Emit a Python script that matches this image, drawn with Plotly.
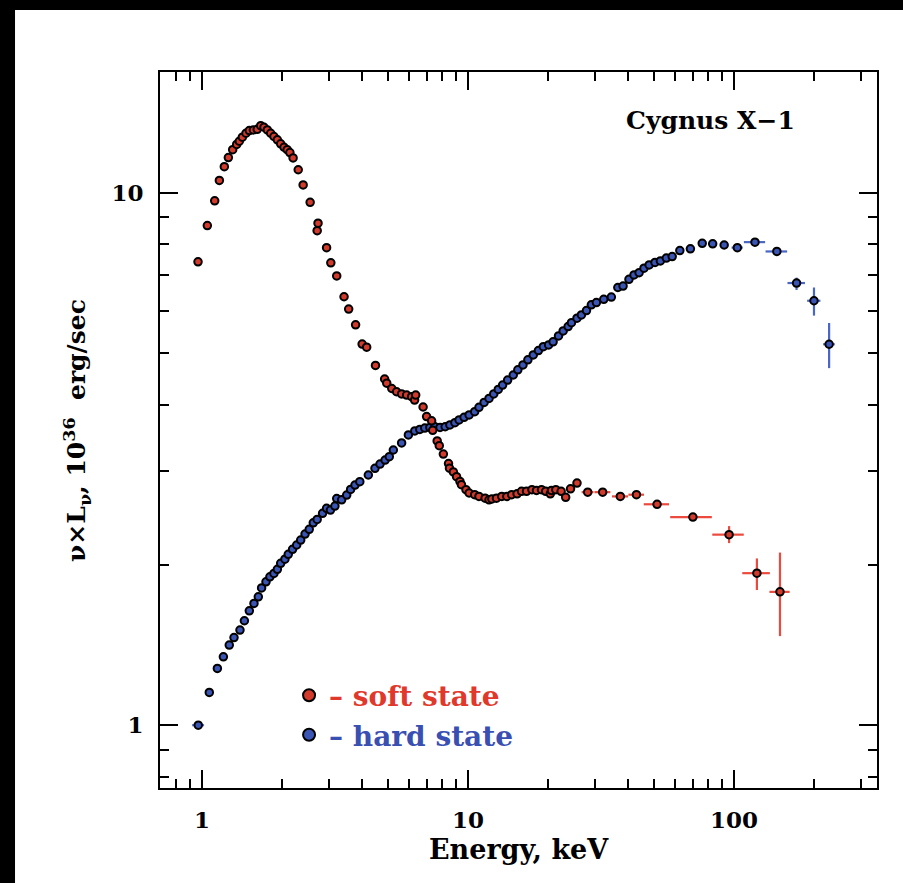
import plotly.graph_objects as go

# ---------------- data ----------------
soft_E = [0.966, 1.047, 1.116, 1.162, 1.213, 1.256, 1.304, 1.35, 1.381, 1.418,
          1.463, 1.506, 1.56, 1.613, 1.662, 1.71, 1.76, 1.812, 1.864, 1.92,
          1.976, 2.034, 2.09, 2.14, 2.2, 2.3, 2.4, 2.55, 2.71, 2.73,
          2.94, 3.05, 3.21, 3.42, 3.56, 3.78, 4.0, 4.16, 4.49, 4.86,
          4.95, 5.17, 5.39, 5.63, 5.88, 6.14, 6.3, 6.36, 6.78, 6.99,
          7.3, 7.37, 7.66, 7.8, 8.08, 8.45, 8.52, 8.81, 9.06, 9.33,
          9.45, 9.83, 10.1, 10.6, 11.0, 11.6, 12.0, 12.3, 12.8, 13.4,
          14.0, 14.6, 15.3, 15.9, 16.6, 17.4, 18.1, 18.9, 19.6, 20.4,
          20.6, 21.4, 22.4, 23.3, 24.3, 25.7, 28.2, 32.1, 37.4, 43.0,
          51.4, 70.1, 95.9, 122, 149]
soft_L = [7.42, 8.68, 9.66, 10.55, 11.2, 11.65, 12.05, 12.33, 12.5, 12.72,
          12.94, 13.09, 13.13, 13.16, 13.37, 13.28, 13.13, 12.94, 12.76, 12.58,
          12.36, 12.18, 12.05, 11.9, 11.63, 11.05, 10.35, 9.6, 8.49, 8.77,
          7.89, 7.39, 6.98, 6.38, 6.05, 5.65, 5.2, 5.13, 4.74, 4.47,
          4.39, 4.29, 4.23, 4.19, 4.17, 4.14, 4.08, 4.17, 3.96, 3.80,
          3.73, 3.58, 3.42, 3.35, 3.23, 3.10, 3.04, 2.99, 2.93, 2.87,
          2.83, 2.77, 2.73, 2.71, 2.69, 2.67, 2.65, 2.66, 2.67, 2.69,
          2.69, 2.71, 2.72, 2.75, 2.75, 2.77, 2.76, 2.77, 2.75, 2.72,
          2.76, 2.77, 2.75, 2.68, 2.78, 2.85, 2.74, 2.74, 2.69, 2.71,
          2.60, 2.46, 2.28, 1.93, 1.78]
soft_xerr = [0, 0, 0, 0, 0, 0, 0, 0, 0, 0,
             0, 0, 0, 0, 0, 0, 0, 0, 0, 0,
             0, 0, 0, 0, 0, 0, 0, 0, 0.1, 0,
             0, 0.07, 0.07, 0.08, 0, 0, 0.09, 0, 0.1, 0,
             0, 0, 0, 0, 0, 0, 0, 0, 0, 0,
             0, 0, 0, 0, 0, 0.15, 0, 0, 0, 0,
             0.2, 0, 0, 0, 0, 0, 0, 0, 0, 0,
             0, 0, 0, 0, 0, 0, 0, 0, 0, 0,
             0, 0, 0, 0.5, 0.5, 0.6, 1.45, 2.2, 2.6, 2.9,
             5.6, 12.5, 13.0, 14.5, 13.0]
soft_yerr_plus = [0, 0, 0, 0, 0, 0, 0, 0, 0, 0,
                  0, 0, 0, 0, 0, 0, 0, 0, 0, 0,
                  0, 0, 0, 0, 0, 0, 0, 0, 0, 0,
                  0, 0, 0, 0, 0, 0, 0, 0, 0, 0,
                  0, 0, 0, 0, 0, 0, 0, 0, 0, 0,
                  0, 0, 0, 0, 0, 0, 0, 0, 0, 0,
                  0, 0, 0, 0, 0, 0, 0, 0, 0, 0,
                  0, 0, 0, 0, 0, 0, 0, 0, 0, 0,
                  0, 0, 0, 0, 0, 0, 0, 0, 0, 0,
                  0.02, 0.03, 0.086, 0.127, 0.33]
soft_yerr_minus = [0, 0, 0, 0, 0, 0, 0, 0, 0, 0,
                   0, 0, 0, 0, 0, 0, 0, 0, 0, 0,
                   0, 0, 0, 0, 0, 0, 0, 0, 0, 0,
                   0, 0, 0, 0, 0, 0, 0, 0, 0, 0,
                   0, 0, 0, 0, 0, 0, 0, 0, 0, 0,
                   0, 0, 0, 0, 0, 0, 0, 0, 0, 0,
                   0, 0, 0, 0, 0, 0, 0, 0, 0, 0,
                   0, 0, 0, 0, 0, 0, 0, 0, 0, 0,
                   0, 0, 0, 0, 0, 0, 0, 0, 0, 0,
                   0.02, 0.03, 0.082, 0.136, 0.31]

hard_E = [0.968, 1.065, 1.142, 1.203, 1.266, 1.319, 1.389, 1.443, 1.506, 1.568,
          1.628, 1.675, 1.74, 1.80, 1.864, 1.92, 1.976, 2.05, 2.11, 2.19,
          2.27, 2.35, 2.44, 2.53, 2.62, 2.71, 2.84, 2.94, 3.04, 3.16,
          3.21, 3.35, 3.50, 3.62, 3.76, 3.92, 4.22, 4.47, 4.67, 4.88,
          5.06, 5.24, 5.63, 5.97, 6.31, 6.59, 6.88, 7.19, 7.51, 7.85,
          8.21, 8.55, 8.93, 9.26, 9.67, 10.1, 10.6, 11.0, 11.5, 12.0,
          12.5, 13.0, 13.5, 14.1, 14.8, 15.4, 16.1, 16.8, 17.6, 18.4,
          19.2, 20.1, 20.9, 21.9, 22.8, 23.8, 24.5, 25.7, 26.7, 27.9,
          29.1, 30.4, 32.4, 34.6, 36.6, 38.3, 40.3, 42.1, 44.0, 45.9,
          48.0, 50.5, 52.9, 55.7, 58.6, 62.6, 68.6, 76.0, 83.2, 91.9,
          103, 120, 145, 172, 200, 228]
hard_L = [1.0, 1.152, 1.278, 1.344, 1.414, 1.461, 1.509, 1.571, 1.640, 1.693,
          1.742, 1.811, 1.859, 1.90, 1.928, 1.962, 2.014, 2.05, 2.094, 2.14,
          2.18, 2.227, 2.286, 2.333, 2.40, 2.435, 2.50, 2.555, 2.536, 2.58,
          2.665, 2.65, 2.706, 2.773, 2.825, 2.867, 2.951, 3.037, 3.094, 3.148,
          3.194, 3.288, 3.39, 3.51, 3.57, 3.594, 3.616, 3.626, 3.636, 3.626,
          3.636, 3.664, 3.70, 3.745, 3.787, 3.826, 3.881, 3.955, 4.04, 4.11,
          4.19, 4.272, 4.355, 4.45, 4.548, 4.65, 4.75, 4.856, 4.96, 5.054,
          5.14, 5.18, 5.25, 5.385, 5.503, 5.607, 5.704, 5.814, 5.898, 6.009,
          6.16, 6.22, 6.31, 6.37, 6.64, 6.68, 6.88, 7.01, 7.08, 7.22,
          7.32, 7.40, 7.45, 7.54, 7.59, 7.79, 7.85, 8.04, 8.02, 7.98,
          7.89, 8.08, 7.76, 6.77, 6.27, 5.195]
hard_xerr = [0.05, 0, 0, 0, 0, 0, 0, 0, 0, 0,
             0, 0, 0, 0, 0, 0, 0, 0, 0, 0,
             0, 0, 0, 0.06, 0, 0, 0, 0, 0, 0,
             0.06, 0, 0, 0, 0, 0, 0, 0, 0, 0,
             0, 0, 0, 0, 0, 0, 0, 0, 0, 0,
             0, 0, 0, 0, 0, 0, 0, 0, 0, 0,
             0, 0, 0, 0, 0, 0, 0, 0, 0, 0,
             0, 0, 0, 0, 0, 0, 0, 0, 0, 0,
             0, 0, 0, 0, 0, 0, 0, 0, 0, 0,
             0, 0, 0, 0, 0, 0, 0, 0, 0, 0,
             5.0, 11.0, 13.5, 13.0, 11.5, 11.5]
hard_yerr_plus = [0, 0, 0, 0, 0, 0, 0, 0, 0, 0,
                  0, 0, 0, 0, 0, 0, 0, 0, 0, 0,
                  0, 0, 0, 0, 0, 0, 0, 0, 0, 0,
                  0, 0, 0, 0, 0, 0, 0, 0, 0, 0,
                  0, 0, 0, 0, 0, 0, 0, 0, 0, 0,
                  0, 0, 0, 0, 0, 0, 0, 0, 0, 0,
                  0, 0, 0, 0, 0, 0, 0, 0, 0, 0,
                  0, 0, 0, 0, 0, 0, 0, 0, 0, 0,
                  0, 0, 0, 0, 0, 0, 0, 0, 0, 0,
                  0, 0, 0, 0, 0, 0, 0, 0, 0, 0,
                  0, 0, 0.05, 0.16, 0.37, 0.50]
hard_yerr_minus = [0, 0, 0, 0, 0, 0, 0, 0, 0, 0,
                   0, 0, 0, 0, 0, 0, 0, 0, 0, 0,
                   0, 0, 0, 0, 0, 0, 0, 0, 0, 0,
                   0, 0, 0, 0, 0, 0, 0, 0, 0, 0,
                   0, 0, 0, 0, 0, 0, 0, 0, 0, 0,
                   0, 0, 0, 0, 0, 0, 0, 0, 0, 0,
                   0, 0, 0, 0, 0, 0, 0, 0, 0, 0,
                   0, 0, 0, 0, 0, 0, 0, 0, 0, 0,
                   0, 0, 0, 0, 0, 0, 0, 0, 0, 0,
                   0, 0, 0, 0, 0, 0, 0, 0, 0, 0,
                   0, 0, 0.05, 0.20, 0.39, 0.51]

x_major = [1, 10, 100]
x_major_text = ["1", "10", "100"]
x_minor = [0.8, 0.9, 2, 3, 4, 5, 6, 7, 8, 9, 20, 30, 40, 50, 60, 70, 80, 90, 200, 300]
y_major = [1, 10]
y_major_text = ["1", "10"]
y_minor = [0.8, 0.9, 2, 3, 4, 5, 6, 7, 8, 9]

# ---------------- styles ----------------
FONT = "DejaVu Serif"
RED_FILL = "#d23a2c"
RED_BAR = "#ec4a3e"
BLUE_FILL = "#3a55b4"
BLUE_BAR = "#4a66c6"

fig = go.Figure()

fig.add_trace(go.Scatter(
    x=hard_E, y=hard_L, mode="markers",
    name="<span style='color:#3a4fb2'>\u2013 hard state</span>",
    legendrank=2,
    marker=dict(size=7.5, color=BLUE_FILL, line=dict(color="black", width=2)),
    error_x=dict(type="data", array=hard_xerr, color=BLUE_BAR, thickness=2.2, width=0),
    error_y=dict(type="data", array=hard_yerr_plus, arrayminus=hard_yerr_minus,
                 color=BLUE_BAR, thickness=2.2, width=0),
))
fig.add_trace(go.Scatter(
    x=soft_E, y=soft_L, mode="markers",
    name="<span style='color:#e0392c'>\u2013 soft state</span>",
    legendrank=1,
    marker=dict(size=7.5, color=RED_FILL, line=dict(color="black", width=2)),
    error_x=dict(type="data", array=soft_xerr, color=RED_BAR, thickness=2.2, width=0),
    error_y=dict(type="data", array=soft_yerr_plus, arrayminus=soft_yerr_minus,
                 color=RED_BAR, thickness=2.2, width=0),
))

axis_common = dict(
    type="log", showgrid=False, zeroline=False,
    showline=True, linecolor="black", linewidth=2,
    mirror="allticks", ticks="inside", tickcolor="black", tickwidth=2, ticklen=18,
    tickfont=dict(family=FONT, size=23, color="black", weight="bold"),
)

fig.update_xaxes(
    **axis_common,
    range=[-0.158, 2.538],
    tickmode="array", tickvals=x_major, ticktext=x_major_text,
    minor=dict(tickmode="array", tickvals=x_minor, ticks="inside", ticklen=9,
               tickwidth=2, tickcolor="black"),
    ticklabelstandoff=10,
)
fig.update_yaxes(
    **axis_common,
    range=[-0.118, 1.227],
    tickmode="array", tickvals=y_major, ticktext=y_major_text,
    minor=dict(tickmode="array", tickvals=y_minor, ticks="inside", ticklen=9,
               tickwidth=2, tickcolor="black"),
    ticklabelstandoff=10,
)

fig.update_layout(
    width=903, height=883,
    margin=dict(l=160, r=26, t=72, b=95),
    paper_bgcolor="black", plot_bgcolor="white",
    font=dict(family=FONT, size=24, color="black"),
    showlegend=True,
    legend=dict(x=0.18, y=0.164, xanchor="left", yanchor="top",
                bgcolor="rgba(0,0,0,0)", borderwidth=0,
                font=dict(family=FONT, size=28, weight="bold"),
                itemsizing="constant"),
    shapes=[dict(type="rect", xref="paper", yref="paper",
                 x0=-0.2022, x1=1.05, y0=-0.14, y1=1.0866,
                 fillcolor="white", line=dict(width=0), layer="below")],
    annotations=[
        dict(text="Cygnus X\u22121", xref="paper", yref="paper", x=0.888, y=0.9316,
             xanchor="right", yanchor="middle", showarrow=False,
             font=dict(family=FONT, size=25, color="black", weight="bold")),
        dict(text="Energy, keV", xref="paper", yref="paper", x=0.5007, y=-0.0865,
             xanchor="center", yanchor="middle", showarrow=False,
             font=dict(family=FONT, size=27, color="black", weight="bold")),
        dict(text="\u03bd\u00d7L<sub>\u03bd</sub>, 10<sup>36</sup>  erg/sec",
             xref="paper", yref="paper", x=-0.1158, y=0.5, textangle=-90,
             xanchor="center", yanchor="middle", showarrow=False,
             font=dict(family=FONT, size=25, color="black", weight="bold")),
    ],
)

fig.write_html("out.html")
